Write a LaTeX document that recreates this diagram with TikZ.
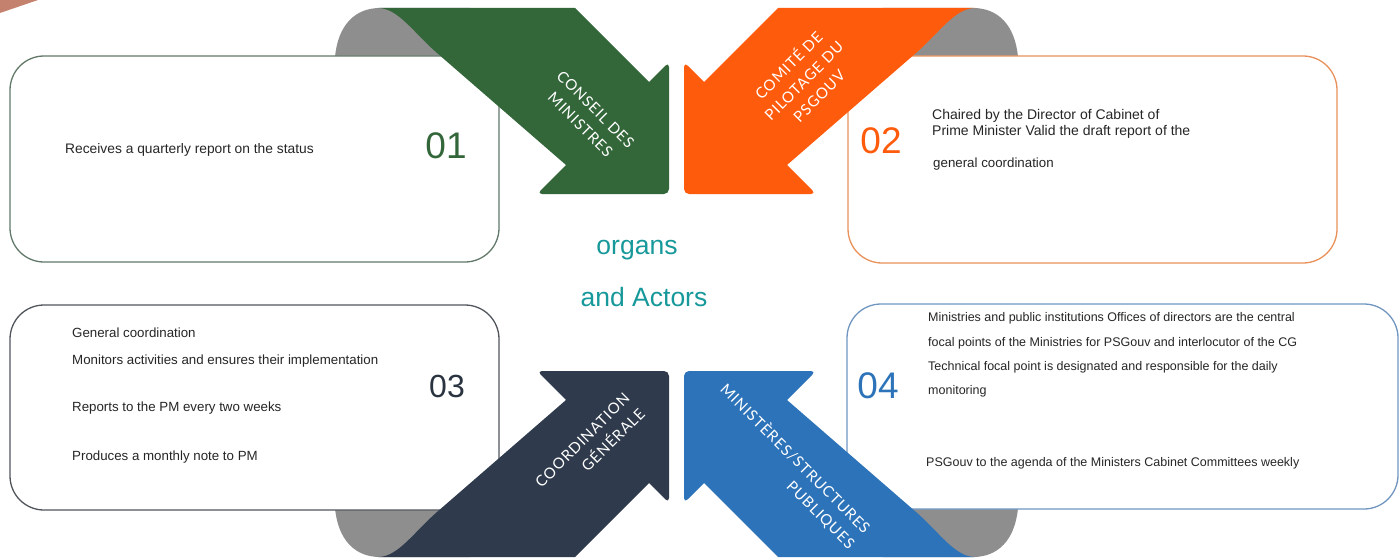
\documentclass[tikz,border=0pt]{standalone}
\usepackage{fontspec}
\setmainfont{Liberation Sans}
\newfontfamily\ribbonfont{Lato}[LetterSpace=6]
\usetikzlibrary{shapes}

\definecolor{cmgreen}{HTML}{33673A}
\definecolor{cporange}{HTML}{FF5B0C}
\definecolor{cgnavy}{HTML}{2F3B4C}
\definecolor{msblue}{HTML}{2D73B9}
\definecolor{foldgray}{HTML}{8E8E8E}
\definecolor{organteal}{HTML}{17989A}
\definecolor{cmbox}{HTML}{62796A}
\definecolor{cpbox}{HTML}{E8915A}
\definecolor{cgbox}{HTML}{50555C}
\definecolor{msbox}{HTML}{7096C0}
\definecolor{numnavy}{HTML}{2A3440}
\definecolor{sliver}{HTML}{C4826E}

% one ribbon arrow (top left one), the others are mirrored
\newcommand{\ribbonpath}{(378,8) -- (575,8) -- (649,82) [rounded corners=5pt] -- (669,62) -- (669,194) -- (537,194) [sharp corners] -- (566,165) -- (437,53) .. controls (414,33) and (398,8) .. (378,8) -- cycle}
\newcommand{\foldpath}{(335,57) .. controls (338,25) and (355,8) .. (380,8) -- (470,8) -- (470,57) -- cycle}

\begin{document}
\begin{tikzpicture}[x=1pt, y=-1pt]

\tikzstyle{infobox}=[rectangle, rounded corners=34pt, line width=1.3pt, fill=white, inner sep=0pt]
\tikzstyle{bodytext}=[anchor=west, inner sep=0pt, text=black!85]
\tikzstyle{numtext}=[inner sep=0pt, font=\fontsize{37}{40}\selectfont]
\tikzstyle{ribbontext}=[inner sep=0pt, text=white, font=\ribbonfont\fontsize{15}{21.5}\selectfont]
\tikzstyle{centertext}=[inner sep=0pt, text=organteal, font=\fontsize{26.5}{30}\selectfont]

\useasboundingbox (0,0) rectangle (1399,559);
\fill[sliver] (0,0) -- (38,0) -- (0,13) -- cycle;

% gray folds
\fill[foldgray] \foldpath;
\begin{scope}[xshift=1353pt, xscale=-1]
\fill[foldgray] \foldpath;
\end{scope}
\begin{scope}[yshift=-565pt, yscale=-1]
\fill[foldgray] \foldpath;
\end{scope}
\begin{scope}[xshift=1353pt, xscale=-1, yshift=-565pt, yscale=-1]
\fill[foldgray] \foldpath;
\end{scope}

% boxes
\node[infobox, draw=cmbox, minimum width=489pt, minimum height=206pt] (box1) at (254.5,159) {};
\node[infobox, draw=cpbox, minimum width=489pt, minimum height=207pt] (box2) at (1092.5,159.5) {};
\node[infobox, draw=cgbox, minimum width=489pt, minimum height=205pt] (box3) at (254.5,407.5) {};
\node[infobox, draw=msbox, minimum width=551pt, minimum height=205pt] (box4) at (1122.5,406.5) {};

% ribbons
\fill[cmgreen] \ribbonpath;
\begin{scope}[xshift=1353pt, xscale=-1]
\fill[cporange] \ribbonpath;
\end{scope}
\begin{scope}[yshift=-565pt, yscale=-1]
\fill[cgnavy] \ribbonpath;
\end{scope}
\begin{scope}[xshift=1353pt, xscale=-1, yshift=-565pt, yscale=-1]
\fill[msblue] \ribbonpath;
\end{scope}

\node[ribbontext, align=center, rotate=-45] (cmlabel) at (588,117) {CONSEIL DES\\MINISTRES};
\node[ribbontext, align=center, rotate=45] (cplabel) at (803,80) {COMITÉ DE\\PILOTAGE DU\\PSGOUV};
\node[ribbontext, align=right, rotate=45] (cglabel) at (590,448) {COORDINATION\\GÉNÉRALE};
\node[ribbontext, align=right, rotate=-45] (mslabel) at (788,466) {MINISTÈRES/STRUCTURES\\PUBLIQUES};

% numbers
\node[numtext, text=cmgreen] (num1) at (446,146) {01};
\node[numtext, text=cporange] (num2) at (881,141) {02};
\node[numtext, text=numnavy, font=\fontsize{32}{35}\selectfont] (num3) at (447,386) {03};
\node[numtext, text=msblue] (num4) at (878,386) {04};

\node[centertext] (organs) at (637,250) {organs};
\node[centertext] (actors) at (644,297) {and Actors};

% box texts
\node[bodytext, font=\fontsize{13.8}{16}\selectfont] (t1) at (65,150) {Receives a quarterly report on the status};

\node[bodytext, align=left, font=\fontsize{14}{16}\selectfont] (t2a) at (932,124) {Chaired by the Director of Cabinet of\\Prime Minister Valid the draft report of the};
\node[bodytext, font=\fontsize{13.3}{16}\selectfont] (t2b) at (933,164) {general coordination};

\tikzstyle{cgtext}=[bodytext, font=\fontsize{13.3}{16}\selectfont]
\node[cgtext] (t3a) at (72,333) {General coordination};
\node[cgtext] (t3b) at (72,361) {Monitors activities and ensures their implementation};
\node[cgtext] (t3c) at (72,408) {Reports to the PM every two weeks};
\node[cgtext] (t3d) at (72,457) {Produces a monthly note to PM};

\tikzstyle{mstext}=[bodytext, font=\fontsize{12.5}{16}\selectfont]
\node[mstext] (t4a) at (928,318) {Ministries and public institutions Offices of directors are the central};
\node[mstext] (t4b) at (928,343) {focal points of the Ministries for PSGouv and interlocutor of the CG};
\node[mstext] (t4c) at (928,367) {Technical focal point is designated and responsible for the daily};
\node[mstext] (t4d) at (928,391) {monitoring};
\node[mstext] (t4e) at (926,463) {PSGouv to the agenda of the Ministers Cabinet Committees weekly};

\end{tikzpicture}
\end{document}
